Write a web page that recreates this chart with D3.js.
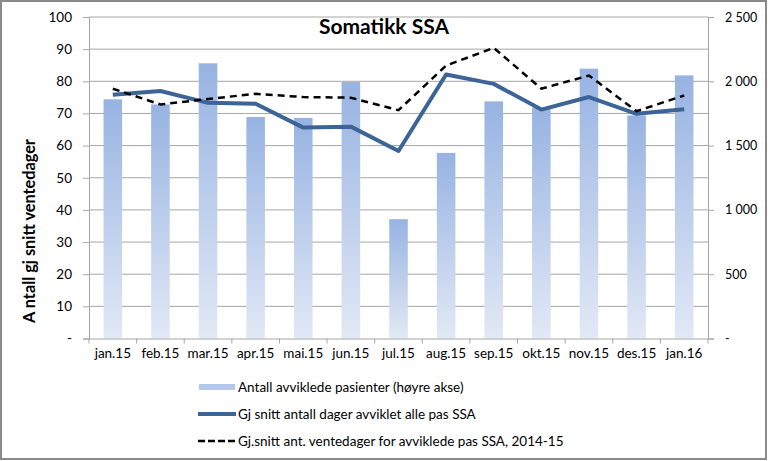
<!DOCTYPE html>
<html><head><meta charset="utf-8">
<script src="https://cdn.jsdelivr.net/npm/d3@7"></script>
<style>body{margin:0;background:#fff}svg{display:block}</style>
</head><body><svg id="c" width="768" height="461"></svg>
<script>
const categories = ["jan.15","feb.15","mar.15","apr.15","mai.15","jun.15","jul.15","aug.15","sep.15","okt.15","nov.15","des.15","jan.16"];
const patients = [1860,1820,2140,1722,1715,1994,928,1443,1844,1795,2098,1735,2046];
const avgDays = [75.8,77.0,73.3,73.0,65.6,65.9,58.3,82.1,79.2,71.2,75.1,69.9,71.3];
const avgWait = [77.7,72.8,74.5,76.1,75.1,74.9,71.0,84.9,90.4,77.7,81.8,70.7,75.6];
const leftTicks = [0,10,20,30,40,50,60,70,80,90,100];
const rightTicks = [0,500,1000,1500,2000,2500];
const legendLabels = ["Antall avviklede pasienter (høyre akse)","Gj snitt antall dager avviklet alle pas SSA","Gj.snitt ant. ventedager for avviklede pas SSA, 2014-15"];

const font = "Lato, 'Open Sans', sans-serif";
const svg = d3.select("#c");
const L = 89, R = 708, T = 17, B = 338.5;

const x = d3.scaleBand().domain(categories).range([L, R]).paddingInner(0.61).paddingOuter(0.305);
const xb = d3.scaleBand().domain(categories).range([L, R]);
const yL = d3.scaleLinear().domain([0,100]).range([B, T]);
const yR = d3.scaleLinear().domain([0,2500]).range([B, T]);

const defs = svg.append("defs");
const g = defs.append("linearGradient").attr("id","bg").attr("x1",0).attr("y1",0).attr("x2",0).attr("y2",1);
g.append("stop").attr("offset","0").attr("stop-color","#97b3e2");
g.append("stop").attr("offset","1").attr("stop-color","#e2e9f6");

// border
svg.append("rect").attr("x",1).attr("y",1).attr("width",765).attr("height",458)
  .attr("fill","#fff").attr("stroke","#8a8a8a").attr("stroke-width",2);

// gridlines
svg.append("g").selectAll("line").data(leftTicks.filter(d=>d>0)).join("line")
  .attr("x1",L).attr("x2",R).attr("y1",d=>yL(d)).attr("y2",d=>yL(d))
  .attr("stroke","#a6a6a6").attr("stroke-width",1);

// bars
svg.append("g").selectAll("rect").data(categories).join("rect")
  .attr("x",d=>x(d)).attr("width",x.bandwidth())
  .attr("y",(d,i)=>yR(patients[i])).attr("height",(d,i)=>B-yR(patients[i]))
  .attr("fill","url(#bg)");

// axes
const axL = d3.axisLeft(yL).tickValues(leftTicks).tickSize(6).tickPadding(11)
  .tickFormat(d=>d===0?"-":d);
const gl = svg.append("g").attr("transform",`translate(${L},0)`).call(axL);
const axR = d3.axisRight(yR).tickValues(rightTicks).tickSize(6).tickPadding(11)
  .tickFormat(d=>d===0?"-":d3.format(",")(d).replace(","," "));
const gr = svg.append("g").attr("transform",`translate(${R},0)`).call(axR);
const axB = d3.axisBottom(xb).tickSize(0).tickPadding(10);
const gb = svg.append("g").attr("transform",`translate(0,${B})`).call(axB);
// bottom tick marks at band boundaries
svg.append("g").selectAll("line").data(d3.range(categories.length+1)).join("line")
  .attr("x1",i=>L+xb.step()*i).attr("x2",i=>L+xb.step()*i)
  .attr("y1",B).attr("y2",B+5).attr("stroke","#a6a6a6");
[gl,gr,gb].forEach(a=>{
  a.selectAll(".domain").attr("stroke","#a6a6a6");
  a.selectAll(".tick line").attr("stroke","#a6a6a6");
  a.selectAll("text").attr("font-family",font).attr("font-size",13.5).attr("fill","#000");
});
gr.selectAll("text").attr("font-size",12.5);
gb.select(".domain").attr("d",`M${L},0.5H${R}`);

// lines
const lineL = d3.line().x((d,i)=>xb(categories[i])+xb.bandwidth()/2).y(d=>yL(d));
svg.append("path").datum(avgDays).attr("d",lineL).attr("fill","none")
  .attr("stroke","#3c6496").attr("stroke-width",4).attr("stroke-linejoin","round");
svg.append("path").datum(avgWait).attr("d",lineL).attr("fill","none")
  .attr("stroke","#000").attr("stroke-width",2.5).attr("stroke-dasharray","7,5");

// title
svg.append("text").attr("x",384).attr("y",34).attr("text-anchor","middle")
  .attr("font-family",font).attr("font-weight","bold").attr("font-size",21).text("Somatikk SSA");
// y title
svg.append("text").attr("transform","translate(35,231) rotate(-90)").attr("text-anchor","middle")
  .attr("font-family",font).attr("font-weight","bold").attr("font-size",16.3).text("A ntall gj snitt ventedager");

// legend
const lg = svg.append("g");
const ly = [387,414,441];
lg.append("rect").attr("x",199).attr("y",ly[0]-3).attr("width",36).attr("height",6).attr("fill","#b3c8ea");
lg.append("line").attr("x1",198).attr("x2",236).attr("y1",ly[1]).attr("y2",ly[1]).attr("stroke","#3c6496").attr("stroke-width",4);
lg.append("line").attr("x1",198).attr("x2",236).attr("y1",ly[2]).attr("y2",ly[2]).attr("stroke","#000").attr("stroke-width",2.5).attr("stroke-dasharray","7,3");
lg.selectAll("text").data(legendLabels).join("text")
  .attr("x",238).attr("y",(d,i)=>ly[i]+5).attr("font-family",font).attr("font-size",13.5).text(d=>d);
</script></body></html>
